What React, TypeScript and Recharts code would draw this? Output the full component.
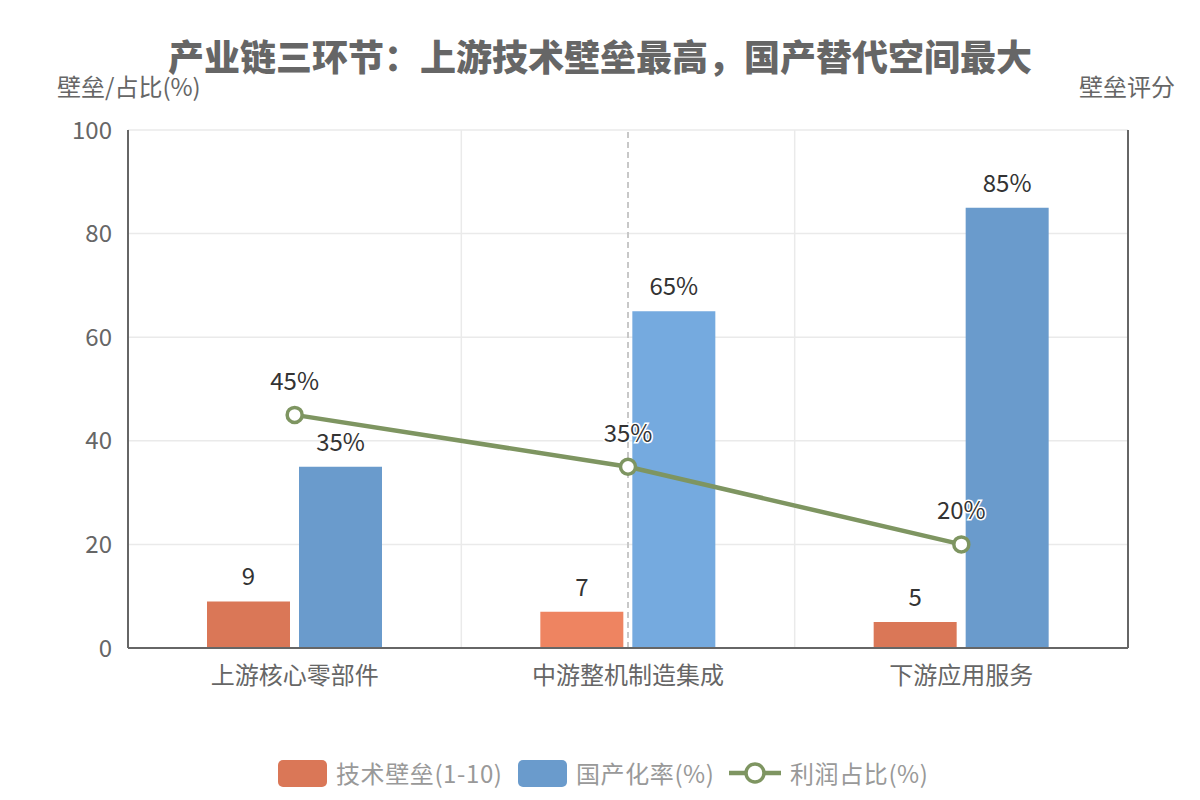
import React from 'react';
import {
  ComposedChart,
  Bar,
  Line,
  XAxis,
  YAxis,
  CartesianGrid,
  Cell,
  LabelList,
  ReferenceLine,
} from 'recharts';

const categories = ['上游核心零部件', '中游整机制造集成', '下游应用服务'];
const barrierScores = [9, 7, 5];
const localizationRates = [35, 65, 85];
const profitShares = [45, 35, 20];
const yTicks = [0, 20, 40, 60, 80, 100];

const seriesNames = ['技术壁垒(1-10)', '国产化率(%)', '利润占比(%)'];

// index of the category currently under the pointer
const activeIndex = 1;

const COLORS = {
  barrier: '#DA7757',
  barrierActive: '#EE8461',
  rate: '#6A9BCC',
  rateActive: '#75AADF',
  profit: '#7E9561',
};

const FONT = '"Noto Sans CJK SC", "Noto Sans", sans-serif';

const data = categories.map((name, i) => ({
  name,
  barrier: barrierScores[i],
  rate: localizationRates[i],
  profit: profitShares[i],
}));

const OutlinedLabel = (props: any) => {
  const { x, y, value } = props;
  return (
    <text
      x={x}
      y={y - 25}
      textAnchor="middle"
      fill="#333"
      stroke="#fff"
      strokeWidth={3}
      paintOrder="stroke"
      fontSize={24}
      fontFamily={FONT}
    >
      {value}%
    </text>
  );
};

function LegendRow() {
  const label = { fontSize: 24, color: '#999', marginLeft: 9, lineHeight: '28px', letterSpacing: 0.6 } as const;
  const item = (left: number) =>
    ({ position: 'absolute', left, top: 0, display: 'flex', alignItems: 'center', whiteSpace: 'nowrap' }) as const;
  return (
    <div style={{ position: 'absolute', top: 759, left: 0, width: 1200, height: 30, fontFamily: FONT }}>
      <div style={item(278)}>
        <div style={{ width: 49, height: 27, borderRadius: 5, background: COLORS.barrier }} />
        <span style={label}>{seriesNames[0]}</span>
      </div>
      <div style={item(518)}>
        <div style={{ width: 49, height: 27, borderRadius: 5, background: COLORS.rate }} />
        <span style={label}>{seriesNames[1]}</span>
      </div>
      <div style={item(729)}>
        <svg width={52} height={28}>
          <line x1={0} y1={14} x2={52} y2={14} stroke={COLORS.profit} strokeWidth={4.5} />
          <circle cx={26} cy={14} r={9} fill="#fff" stroke={COLORS.profit} strokeWidth={3.5} />
        </svg>
        <span style={label}>{seriesNames[2]}</span>
      </div>
    </div>
  );
}

export default function App() {
  return (
    <div
      style={{
        position: 'absolute',
        left: 0,
        top: 0,
        width: 1200,
        height: 800,
        background: '#fff',
        fontFamily: FONT,
      }}
    >
      <div
        style={{
          position: 'absolute',
          top: 37,
          width: 1200,
          textAlign: 'center',
          fontSize: 36,
          lineHeight: '36px',
          fontWeight: 900,
          color: '#666',
        }}
      >
        产业链三环节：上游技术壁垒最高，国产替代空间最大
      </div>
      <div style={{ position: 'absolute', top: 74, left: 57, fontSize: 24, lineHeight: '24px', color: '#666' }}>
        壁垒/占比(%)
      </div>
      <div style={{ position: 'absolute', top: 74, right: 25, fontSize: 24, lineHeight: '24px', color: '#666' }}>
        壁垒评分
      </div>

      <ComposedChart
        width={1200}
        height={800}
        data={data}
        margin={{ top: 130, right: 0, bottom: 112, left: 0 }}
        barGap={9}
        style={{ position: 'absolute', left: 0, top: 0 }}
      >
        <CartesianGrid
          yAxisId="left"
          stroke="#eaeaea"
          strokeWidth={1.5}
          verticalCoordinatesGenerator={({ offset }: any) => [
            offset.left + offset.width / 3,
            offset.left + (2 * offset.width) / 3,
          ]}
        />
        <XAxis
          dataKey="name"
          height={40}
          axisLine={{ stroke: '#666', strokeWidth: 2 }}
          tickLine={false}
          tickSize={6}
          tickMargin={13}
          tick={{ fill: '#666', fontSize: 24, fontFamily: FONT }}
        />
        <YAxis
          yAxisId="left"
          width={128}
          domain={[0, 100]}
          ticks={yTicks}
          axisLine={{ stroke: '#666', strokeWidth: 2 }}
          tickLine={false}
          tickSize={6}
          tickMargin={10}
          tick={{ fill: '#666', fontSize: 24, fontFamily: FONT }}
        />
        <YAxis
          yAxisId="right"
          orientation="right"
          width={72}
          domain={[0, 10]}
          axisLine={{ stroke: '#666', strokeWidth: 2 }}
          tickLine={false}
          tick={false}
        />
        <ReferenceLine
          yAxisId="left"
          x={categories[activeIndex]}
          stroke="#c8c8c8"
          strokeWidth={2}
          strokeDasharray="6 4"
        />
        <Bar
          yAxisId="left"
          dataKey="barrier"
          name={seriesNames[0]}
          barSize={83}
          fill={COLORS.barrier}
          isAnimationActive={false}
        >
          {data.map((_, i) => (
            <Cell key={`barrier-${i}`} fill={i === activeIndex ? COLORS.barrierActive : COLORS.barrier} />
          ))}
          <LabelList dataKey="barrier" position="top" offset={16} fill="#333" fontSize={24} fontFamily={FONT} />
        </Bar>
        <Bar
          yAxisId="left"
          dataKey="rate"
          name={seriesNames[1]}
          barSize={83}
          fill={COLORS.rate}
          isAnimationActive={false}
        >
          {data.map((_, i) => (
            <Cell key={`rate-${i}`} fill={i === activeIndex ? COLORS.rateActive : COLORS.rate} />
          ))}
          <LabelList
            dataKey="rate"
            position="top"
            offset={16}
            fill="#333"
            fontSize={24}
            fontFamily={FONT}
            formatter={(v: any) => `${v}%`}
          />
        </Bar>
        <Line
          yAxisId="left"
          type="linear"
          dataKey="profit"
          name={seriesNames[2]}
          stroke={COLORS.profit}
          strokeWidth={4.5}
          dot={{ r: 7.5, fill: '#fff', stroke: COLORS.profit, strokeWidth: 3.5 }}
          activeDot={false}
          isAnimationActive={false}
        >
          <LabelList dataKey="profit" content={OutlinedLabel} />
        </Line>
      </ComposedChart>

      <LegendRow />
    </div>
  );
}
